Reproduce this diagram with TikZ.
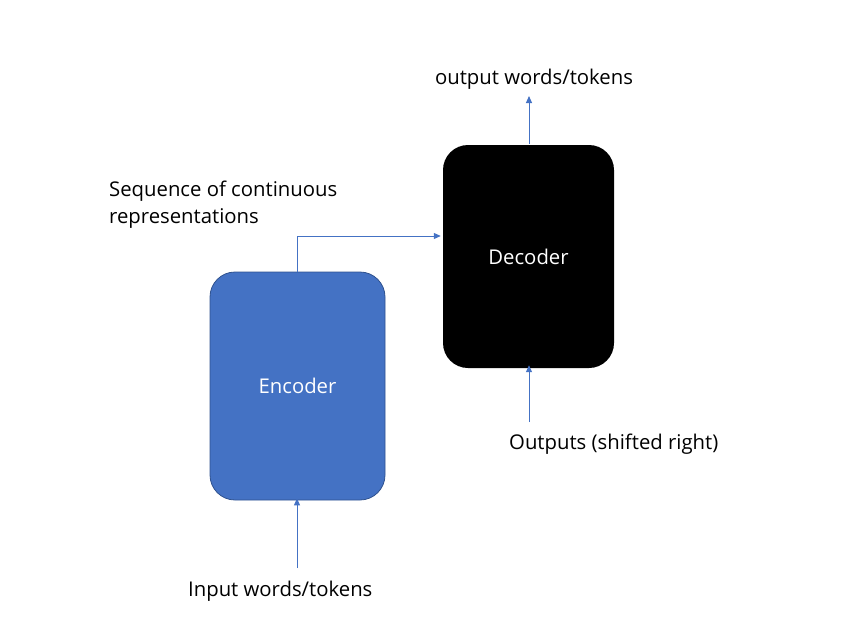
\documentclass[tikz,border=0pt]{standalone}
\usepackage{fontspec}
\setmainfont[Ligatures=NoCommon]{Open Sans}
\usetikzlibrary{arrows.meta}
\definecolor{encblue}{HTML}{4472C4}
\definecolor{encedge}{HTML}{2F528F}
\begin{document}
\begin{tikzpicture}[x=1pt,y=-1pt,
  lbl/.style={font=\fontsize{20.3}{27}\selectfont, inner sep=0pt},
  conn/.style={draw=encblue, line width=1pt, -{Triangle[length=7pt,width=6pt]}}]
\useasboundingbox (0,0) rectangle (865,640);
\node[draw=encedge, line width=0.8pt, fill=encblue, rounded corners=25pt, minimum width=175pt, minimum height=228pt, inner sep=0pt,
  text=white, lbl] (enc) at (297.5,386) {Encoder};
\node[fill=black, rounded corners=25pt, minimum width=171pt, minimum height=223pt, inner sep=0pt,
  text=white, lbl] (dec) at (528.5,256.5) {Decoder};
\node[lbl, anchor=base] (out) at (534,84) {output words/tokens};
\node[lbl, anchor=base west, align=left] (seq) at (109,223) {Sequence of continuous\\representations};
\node[lbl, anchor=base west] (shift) at (509,449) {Outputs (shifted right)};
\node[lbl, anchor=base west] (inp) at (188,596) {Input words/tokens};
\coordinate (outtip) at (529,96);
\coordinate (bend) at (297,236);
\coordinate (shiftfoot) at (529,422);
\coordinate (inpfoot) at (297,568);
\draw[conn] (dec.north -| outtip) ++(0,-1) -- (outtip);
\draw[conn] (enc.north -| bend) -- (bend) -- ([xshift=-2pt]dec.west |- bend);
\draw[conn] (shiftfoot) -- ([yshift=3pt]dec.south -| shiftfoot);
\draw[conn] (inpfoot) -- ([yshift=2pt]enc.south -| inpfoot);
\end{tikzpicture}
\end{document}
